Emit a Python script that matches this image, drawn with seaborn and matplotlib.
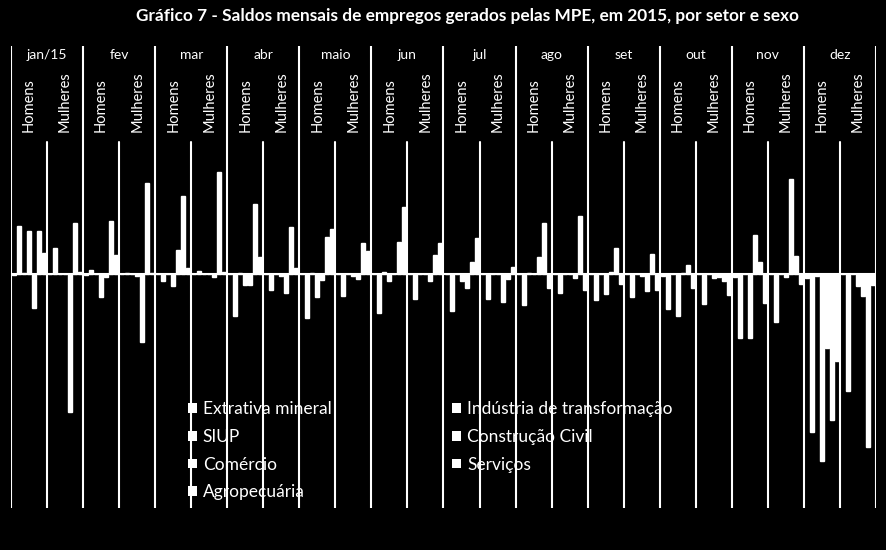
import matplotlib
matplotlib.use("Agg")
import matplotlib.pyplot as plt
import matplotlib.transforms as mtransforms
from matplotlib.patches import Patch
import pandas as pd
import seaborn as sns

# ---------------- data (saldos) ----------------
months = ["jan/15", "fev", "mar", "abr", "maio", "jun", "jul", "ago", "set", "out", "nov", "dez"]
sexes = ["Homens", "Mulheres"]
sectors = ["Extrativa mineral", "Indústria de transformação", "SIUP",
           "Construção Civil", "Comércio", "Serviços", "Agropecuária"]

# order: jan H, jan M, fev H, fev M, ... dez H, dez M
extrativa = [-1, 0, -1, 0, 0, 0, 0, 0, 0, 0, 0, 0,
             0, 0, 0, 0, 0, 0, -2, 0, -3, 0, -4, 0]
industria = [48, 26, 4, 1, -7, 3, -42, -16, -44, -22, -39, -25,
             -37, -25, -31, -19, -26, -23, -35, -30, -64, -48, -158, -117]
siup = [1, 0, 0, 0, 0, 0, 1, 0, 1, 0, 2, 0,
        0, 0, 1, 0, 0, 0, 0, 0, 0, 0, -2, 0]
construcao = [43, 0, -23, -2, -12, 0, -11, -2, -23, -2, -7, 0,
              -7, 0, 0, 0, -20, -2, -42, -4, -64, -3, -187, -12]
comercio = [-34, -138, -3, -68, 24, -3, -11, -19, -6, -5, 0, -7,
            -14, -28, 17, -4, 2, -17, 1, -3, 39, 95, -74, -22]
servicos = [43, 51, 53, 91, 78, 102, 70, 47, 37, 31, 32, 19,
            12, -5, 51, 58, 26, 20, 9, -7, 12, 18, -146, -173]
agropecuaria = [21, 2, 19, 1, 6, 2, 17, 6, 45, 23, 67, 31,
                36, 7, -14, -16, -10, -16, -14, -21, -29, -10, -87, -11]

series = [extrativa, industria, siup, construcao, comercio, servicos, agropecuaria]
group_order = [f"{m} {s}" for m in months for s in sexes]

rows = []
for name, vals in zip(sectors, series):
    for i, v in enumerate(vals):
        rows.append({"grupo": group_order[i], "setor": name, "saldo": v})
df = pd.DataFrame(rows)

# ---------------- style ----------------
sns.set_theme(style="white")
plt.rcParams['font.family'] = ['Lato', 'DejaVu Sans']

W, H = 886, 550
fig = plt.figure(figsize=(W / 100, H / 100), dpi=100, facecolor="black")
top_px, bot_px = 46, 508
ax = fig.add_axes([11 / W, (H - bot_px) / H, 865 / W, (bot_px - top_px) / H])
ax.set_facecolor("black")

sns.barplot(data=df, x="grupo", y="saldo", hue="setor", order=group_order,
            hue_order=sectors, palette=["white"] * 7, saturation=1,
            width=0.97, gap=0.2, errorbar=None, legend=False, ax=ax)

zero_px = 274
ax.set_ylim(-(bot_px - zero_px), zero_px - top_px)
ax.set_xlim(-0.5, len(group_order) - 0.5)
for sp in ax.spines.values():
    sp.set_visible(False)
ax.set_xticks([])
ax.set_yticks([])
ax.set_xlabel("")
ax.set_ylabel("")
ax.grid(False)

def yfrac(py):
    return (bot_px - py) / (bot_px - top_px)

lw = 1.5
ax.axhline(0, color="white", lw=lw)
for k in range(len(months) + 1):
    ax.axvline(2 * k - 0.5, color="white", lw=lw)
for k in range(len(months)):
    ax.axvline(2 * k + 0.5, ymin=0, ymax=yfrac(142), color="white", lw=lw)

trans = mtransforms.blended_transform_factory(ax.transData, ax.transAxes)
for m, name in enumerate(months):
    ax.text(2 * m + 0.5, yfrac(55), name, transform=trans, ha="center", va="center",
            color="white", fontsize=10)
    for j, s in enumerate(sexes):
        ax.text(2 * m + j, yfrac(132), s, transform=trans, ha="center", va="bottom",
                rotation=90, color="white", fontsize=10.5)

fig.text(467 / W, 1 - 16 / H,
         "Gráfico 7 - Saldos mensais de empregos gerados pelas MPE, em 2015, por setor e sexo",
         ha="center", va="center", color="white", fontsize=12.4, fontweight="bold")

leg_order = [0, 2, 4, 6, 1, 3, 5]
handles = [Patch(facecolor="white", edgecolor="none") for _ in leg_order]
labels = [sectors[i] for i in leg_order]
ax.legend(handles, labels, ncol=2, frameon=False, loc="upper left",
          bbox_to_anchor=(188 / W, 1 - 401 / H), bbox_transform=fig.transFigure,
          fontsize=12.5, labelcolor="white", handlelength=0.5, handleheight=0.5,
          handletextpad=0.35, labelspacing=0.68, columnspacing=6.95,
          borderpad=0, borderaxespad=0)

fig.savefig("out.png", dpi=100, facecolor="black")
